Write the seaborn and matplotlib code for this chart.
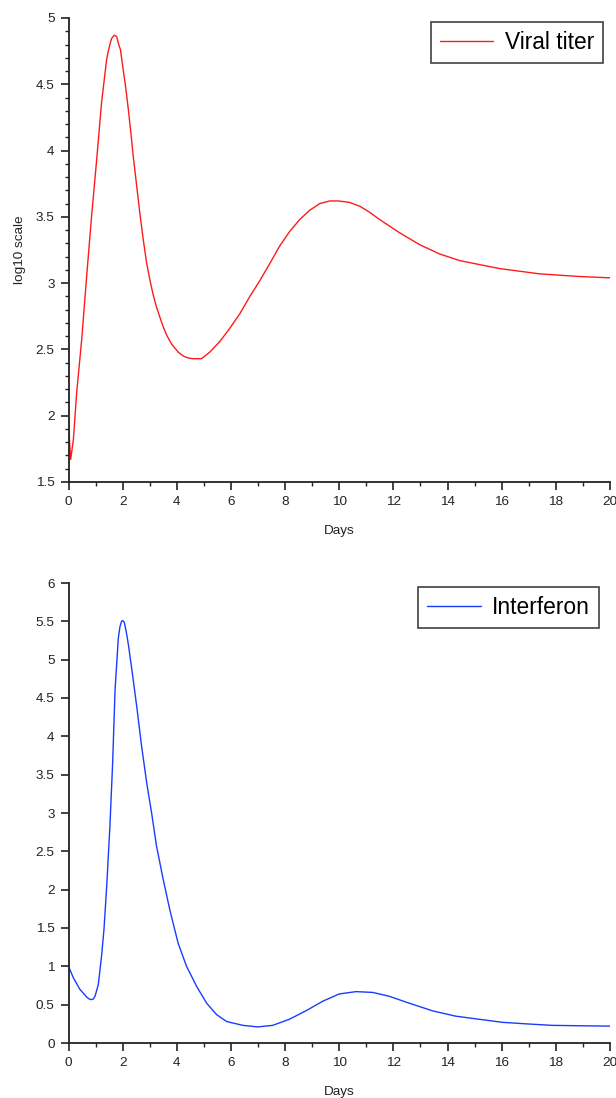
import matplotlib
matplotlib.use("Agg")
import matplotlib.pyplot as plt
import seaborn as sns
import pandas as pd
from matplotlib.ticker import MultipleLocator, FormatStrFormatter

# ---- data ----
viral_days = [0.0, 0.04, 0.08, 0.18, 0.30, 0.49, 0.67, 0.85, 1.04, 1.22, 1.41, 1.47, 1.53,
              1.59, 1.69, 1.78, 1.84, 1.92, 2.02, 2.11, 2.21, 2.29, 2.39, 2.52, 2.64, 2.76,
              2.88, 3.01, 3.13, 3.25, 3.38, 3.50, 3.62, 3.81, 3.93, 4.05, 4.24, 4.42, 4.61,
              4.91, 5.22, 5.59, 5.96, 6.33, 6.70, 7.07, 7.44, 7.80, 8.17, 8.54, 8.91, 9.28,
              9.65, 9.96, 10.36, 10.76, 11.12, 11.49, 12.23, 12.97, 13.71, 14.45, 15.18,
              15.92, 16.66, 17.40, 18.14, 18.87, 20.0]
viral_titer = [1.99, 1.80, 1.67, 1.82, 2.17, 2.58, 3.05, 3.50, 3.93, 4.36, 4.69, 4.75, 4.80,
               4.845, 4.87, 4.86, 4.81, 4.76, 4.61, 4.48, 4.31, 4.16, 3.96, 3.73, 3.52, 3.33,
               3.16, 3.02, 2.91, 2.82, 2.74, 2.67, 2.61, 2.54, 2.51, 2.48, 2.45, 2.435, 2.43,
               2.43, 2.48, 2.56, 2.66, 2.77, 2.90, 3.02, 3.15, 3.28, 3.39, 3.48, 3.55, 3.60,
               3.62, 3.62, 3.61, 3.58, 3.535, 3.48, 3.38, 3.29, 3.22, 3.17, 3.14,
               3.11, 3.09, 3.07, 3.06, 3.05, 3.04]

ifn_days = [0.0, 0.18, 0.42, 0.67, 0.76, 0.85, 0.92, 0.98, 1.10, 1.22, 1.31, 1.41, 1.53,
            1.63, 1.72, 1.84, 1.90, 1.96, 2.00, 2.06, 2.15, 2.21, 2.34, 2.52, 2.70, 2.89,
            3.07, 3.25, 3.50, 3.74, 4.05, 4.36, 4.73, 5.10, 5.47, 5.84, 6.44, 6.99, 7.54,
            8.16, 8.77, 9.39, 10.00, 10.62, 11.23, 11.84, 12.58, 13.44, 14.30, 15.16,
            16.02, 16.89, 17.87, 18.86, 20.0]
interferon = [1.00, 0.85, 0.70, 0.60, 0.575, 0.565, 0.575, 0.61, 0.76, 1.13, 1.48, 2.04,
              2.83, 3.65, 4.61, 5.28, 5.43, 5.50, 5.51, 5.49, 5.33, 5.20, 4.87, 4.39, 3.87,
              3.39, 3.00, 2.57, 2.13, 1.74, 1.30, 1.00, 0.74, 0.52, 0.37, 0.28, 0.23, 0.21,
              0.23, 0.31, 0.42, 0.545, 0.64, 0.67, 0.66, 0.61, 0.52, 0.42, 0.35, 0.31,
              0.27, 0.25, 0.23, 0.225, 0.22]

x_label = "Days"
y_label_top = "log10 scale"
series_top = "Viral titer"
series_bottom = "Interferon"

sns.set_style("ticks")
plt.rcParams['font.family'] = ['Liberation Sans', 'DejaVu Sans']

W, H = 616, 1098
fig = plt.figure(figsize=(W / 100, H / 100), dpi=100)

def box(l, t, r, b):
    return [l / W, 1 - b / H, (r - l) / W, (b - t) / H]

ax1 = fig.add_axes(box(68.5, 18, 610, 482))
ax2 = fig.add_axes(box(68.5, 583, 610, 1043))

df1 = pd.DataFrame({"day": viral_days, "val": viral_titer, "s": series_top})
df2 = pd.DataFrame({"day": ifn_days, "val": interferon, "s": series_bottom})

sns.lineplot(data=df1, x="day", y="val", hue="s", palette=["#ff1a1a"], lw=1.0, ax=ax1)
sns.lineplot(data=df2, x="day", y="val", hue="s", palette=["#1a3cff"], lw=1.0, ax=ax2)

ax1.set_xlim(0, 20)
ax1.set_ylim(1.5, 5)
ax2.set_xlim(0, 20)
ax2.set_ylim(0, 6)

for ax in (ax1, ax2):
    sns.despine(ax=ax)
    ax.xaxis.set_major_locator(MultipleLocator(2))
    ax.xaxis.set_minor_locator(MultipleLocator(1))
    ax.yaxis.set_major_locator(MultipleLocator(0.5))
    ax.yaxis.set_major_formatter(FormatStrFormatter('%g'))
    for s in ("left", "bottom"):
        ax.spines[s].set_linewidth(1.3)
        ax.spines[s].set_color("#222222")
    ax.tick_params(which="major", length=6, width=1.2, color="#222222",
                   labelsize=9.7, labelcolor="#222222", pad=4, direction="out")
    ax.tick_params(which="minor", length=3, width=1.0, color="#222222", direction="out")
    ax.set_xlabel(x_label, fontsize=9.7, color="#222222", labelpad=12)
    ax.set_ylabel("")

ax1.yaxis.set_minor_locator(MultipleLocator(0.1))
ax1.set_ylabel(y_label_top, fontsize=9.7, color="#222222", labelpad=7)

for ax, anchor in ((ax1, (0.987, 0.991)), (ax2, (0.980, 0.991))):
    leg = ax.legend(loc="upper right", bbox_to_anchor=anchor, borderaxespad=0,
                    fontsize=16.4, frameon=True, fancybox=False, edgecolor="#111111",
                    handlelength=2.35, handletextpad=0.5, borderpad=0.4, title=None)
    leg.get_frame().set_linewidth(1.2)
    for h in leg.get_lines():
        h.set_linewidth(1.0)
    for t in leg.get_texts():
        t.set_color("black")

fig.savefig("out.png", dpi=100, facecolor="white")
